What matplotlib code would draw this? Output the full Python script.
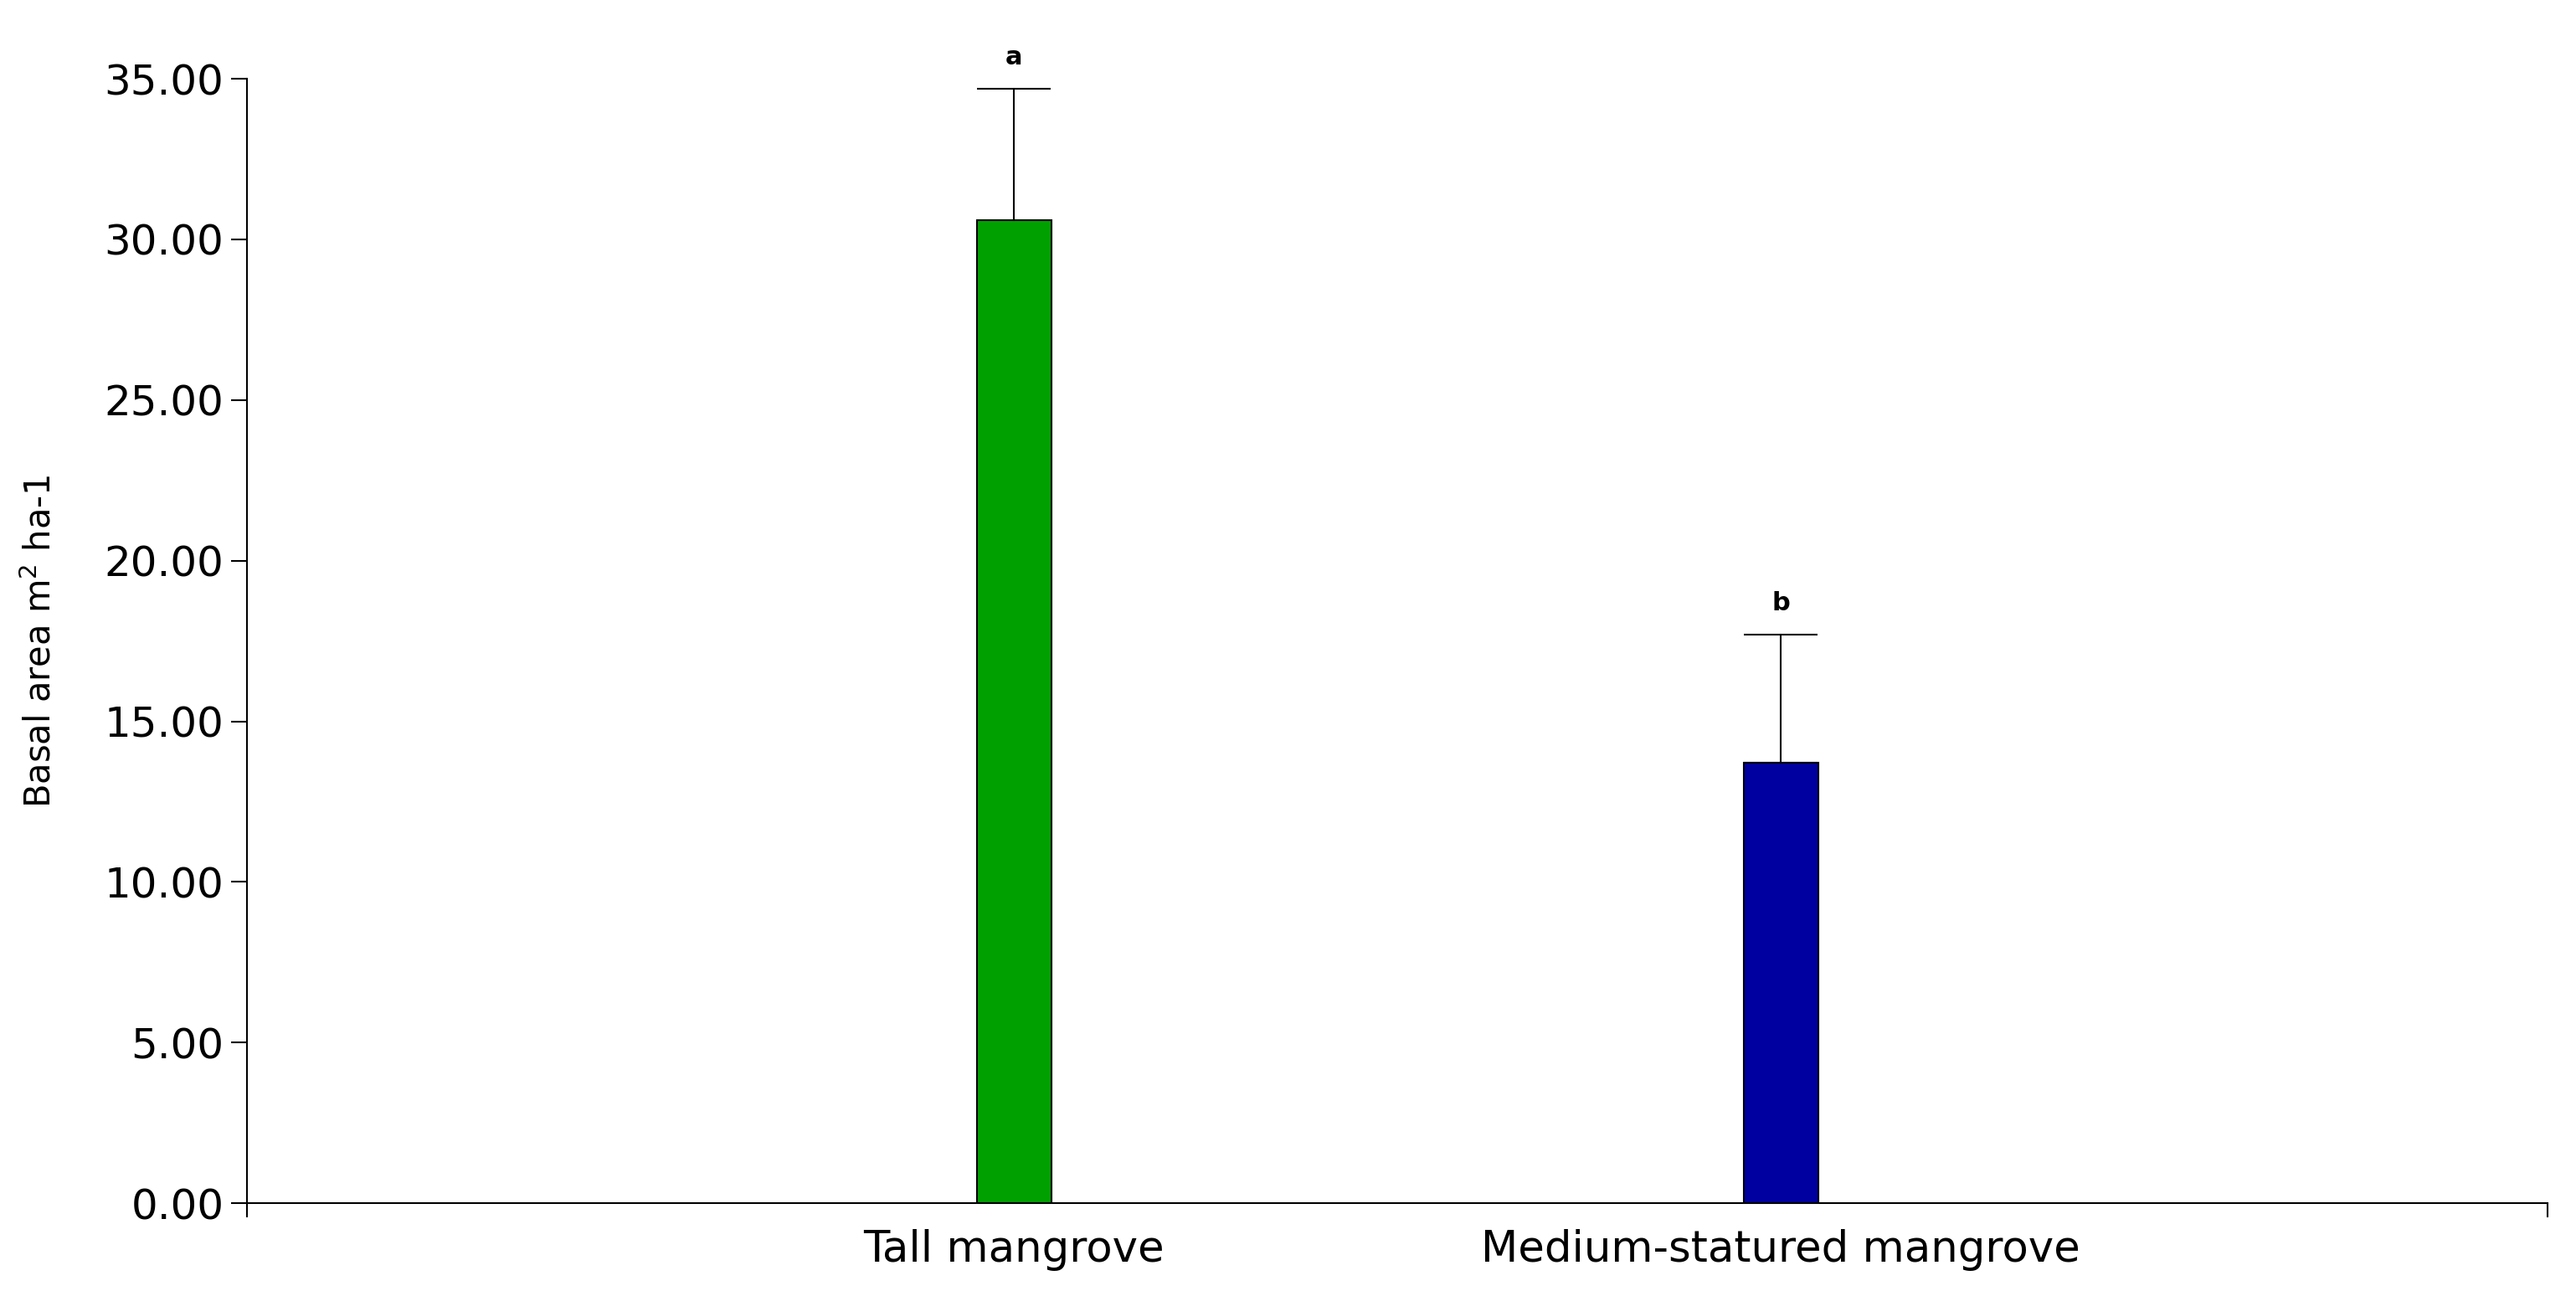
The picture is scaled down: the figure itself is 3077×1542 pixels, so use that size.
import matplotlib
matplotlib.use("Agg")
import matplotlib.pyplot as plt

categories = ["Tall mangrove", "Medium-statured mangrove"]
values = [30.6, 13.7]
errors = [4.1, 4.0]
letters = ["a", "b"]
colors = ["#00a000", "#0000a0"]
yticks = [0, 5, 10, 15, 20, 25, 30, 35]

fig = plt.figure(figsize=(30.77, 15.42), dpi=100)
ax = fig.add_axes([0.096, 0.068, 0.893, 0.871])
pos = [1, 2]
ax.bar(pos, values, width=0.097, color=colors, edgecolor="black", linewidth=1.5, zorder=2)
ax.errorbar(pos, values, yerr=[[0, 0], errors], fmt="none", ecolor="black",
            elinewidth=1.5, capsize=32, capthick=1.5, zorder=1)
for p, v, e, l in zip(pos, values, errors, letters):
    ax.text(p, v + e + 0.6, l, ha="center", va="bottom", fontsize=22, fontweight="bold")
ax.set_xlim(0, 3)
ax.set_ylim(0, 35)
ax.set_yticks(yticks)
ax.set_yticklabels([f"{t:.2f}" for t in yticks], fontsize=36)
ax.set_xticks(pos)
ax.set_xticklabels(categories, fontsize=37)
ax.tick_params(axis="x", length=0, pad=22)
ax.set_xticks([0, 3], minor=True)
ax.tick_params(axis="x", which="minor", length=12, width=1.5)
ax.tick_params(axis="y", length=14, width=1.5, pad=6)
for s in ["top", "right"]:
    ax.spines[s].set_visible(False)
for s in ["left", "bottom"]:
    ax.spines[s].set_linewidth(1.5)
ax.set_ylabel("Basal area m$^2$ ha-1", fontsize=30,
              family=["Liberation Sans Narrow", "DejaVu Sans"], labelpad=40)
fig.savefig("out.png", dpi=100)
